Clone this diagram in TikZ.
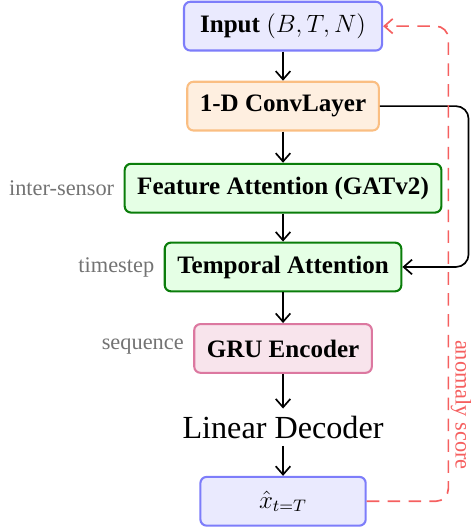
\documentclass[tikz,border=0pt]{standalone}
\usepackage{amsmath,amssymb}
\usepackage{fontspec}
\setmainfont{Liberation Serif}
\usepackage{tikz}
\usetikzlibrary{arrows.meta,positioning,calc}
\definecolor{inblue}{RGB}{125,125,250}
\definecolor{convorange}{RGB}{250,190,130}
\definecolor{attgreen}{RGB}{10,125,10}
\definecolor{grupink}{RGB}{220,120,160}
\definecolor{scorered}{RGB}{245,95,95}

\begin{document}
\begin{tikzpicture}[
  block/.style={rectangle,rounded corners=3pt,line width=1pt,minimum height=0.82cm,
                inner xsep=6pt,align=center,font=\fontsize{12}{14}\selectfont\bfseries},
  io/.style={block,draw=inblue,fill=inblue!16},
  conv/.style={block,draw=convorange,fill=convorange!25},
  att/.style={block,draw=attgreen,fill=green!10},
  gru/.style={block,draw=grupink,fill=grupink!20},
  side/.style={font=\fontsize{10.7}{13}\selectfont,text=black!55,anchor=east},
  arr/.style={-{Straight Barb[length=4pt,width=7pt]},thick}]
\useasboundingbox (-4.76,0.44) rectangle (3.16,-8.49);
%% -- main column ---------------------------------------------------------
\node[io,minimum width=3.33cm](input) at (0,0) {Input $(B,T,N)$};
\node[conv](conv) at (0,-1.345) {1-D ConvLayer};
\node[att](feat) at (0,-2.725) {Feature Attention (GATv2)};
\node[att](temp) at (0,-4.05) {Temporal Attention};
\node[gru](gru) at (0,-5.42) {GRU Encoder};
\node[font=\fontsize{15.4}{18}\selectfont](dec) at (0,-6.745) {Linear Decoder};
\node[io,minimum width=2.78cm,font=\fontsize{12}{14}\selectfont](out) at (0,-7.99) {$\hat{x}_{t=T}$};
%% -- side labels ---------------------------------------------------------
\node[side] at ([xshift=-1pt]feat.west) {inter-sensor};
\node[side] at ([xshift=-1pt]temp.west) {timestep};
\node[side] at ([xshift=-1pt,yshift=1pt]gru.west) {sequence};
%% -- forward arrows ------------------------------------------------------
\draw[arr](input) -- (conv);
\draw[arr](conv) -- (feat);
\draw[arr](feat) -- (temp);
\draw[arr](temp) -- (gru);
\draw[arr](gru) -- (dec);
\draw[arr](dec) -- (out);
%% -- skip from conv to temporal ------------------------------------------
\coordinate (skip) at (3.12,0);
\draw[arr,rounded corners=6pt](conv.east) -- (conv.east -| skip)
  -- (temp.east -| skip) -- (temp.east);
%% -- anomaly score feedback ----------------------------------------------
\coordinate (fb) at (2.78,0);
\draw[arr,scorered,dashed,dash pattern=on 6pt off 4pt,rounded corners=6pt]
  (out.east) -- (out.east -| fb) -- (input.east -| fb) -- (input.east);
\node[scorered,rotate=-90,inner sep=1pt,font=\fontsize{10.7}{13}\selectfont](score) at (2.99,-6.37) {anomaly score};
\end{tikzpicture}
\end{document}
